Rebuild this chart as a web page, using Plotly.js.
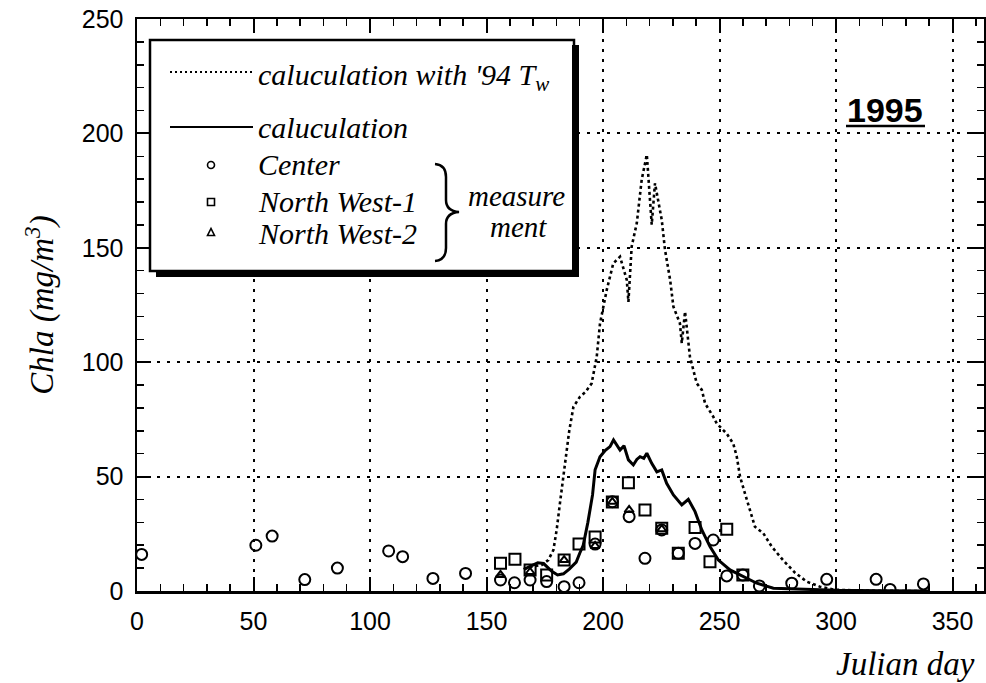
<!DOCTYPE html>
<html>
<head>
<meta charset="utf-8">
<script src="https://cdn.plot.ly/plotly-3.0.1.min.js"></script>
<style>html,body{margin:0;padding:0;background:#fff;}</style>
</head>
<body>
<div id="chart" style="width:986px;height:683px;"></div>
<script>
// ---------- data ----------
const calcDay  = [166, 169, 172, 174.5, 178, 180.5, 183, 185.5, 188.5, 190, 191.5, 193.5, 195.5, 196.6, 198.7, 201, 203, 204.5, 206, 207.3, 209, 210.9, 213, 214.5, 215.9, 217.5, 218.8, 220.9, 223.1, 225.2, 227.3, 230.2, 233.8, 236.6, 239.5, 242.4, 245.9, 249.5, 254.5, 260.2, 266, 273.1, 284.5, 300, 320, 340];
const calcChla = [9.5, 11, 12.3, 12, 8.6, 7, 7.5, 9.6, 12.6, 16.5, 20, 30, 42, 53, 58.7, 61.5, 63.1, 66, 63.5, 61.6, 63.5, 57.3, 55.1, 57.5, 58.7, 58, 60.2, 55.8, 52.1, 52.9, 47.1, 42, 37.6, 40.1, 34.7, 26.7, 19.4, 13.5, 9.2, 6.3, 3.4, 1.2, 0.7, 0.3, 0.1, 0];

const calc94Day  = [166, 169.4, 173.7, 176.5, 178.7, 180.1, 181.5, 183, 184.3, 185.5, 187.3, 190.1, 192.5, 195.1, 197.3, 198.7, 201.6, 204.4, 207.3, 210.2, 210.9, 212.3, 214.5, 216.6, 218.8, 220.2, 220.9, 222.3, 223.7, 225.2, 226.6, 228.8, 230.2, 233, 233.8, 235.2, 237.3, 240.2, 242.4, 243.8, 247.3, 248.8, 253.1, 255.9, 257.4, 258.8, 260.9, 263.1, 265.2, 268.8, 272.4, 277.4, 282.4, 287.4, 293.1, 299, 310, 330, 340];
const calc94Chla = [9.5, 10.6, 11.4, 13.5, 17.9, 26.7, 38.3, 51, 60, 70, 80.5, 84.9, 87, 90.7, 102.4, 116.9, 131.6, 143.2, 146.1, 135.9, 126.4, 150.6, 160.8, 179.8, 190.7, 172.4, 160.1, 178.2, 170.9, 162.2, 149.1, 136, 124.3, 117, 108.3, 122.1, 102.4, 90.8, 87.9, 82, 76.2, 73.2, 68.8, 64.4, 58.7, 50, 42.7, 35.4, 28.1, 25.2, 19.4, 13.3, 8, 4.1, 1.9, 0.6, 0.2, 0, 0];

const centerDay  = [2, 51, 58, 72, 86, 108, 114, 127, 141, 156, 162, 168.7, 175.8, 183.3, 189.7, 196.6, 204, 211.2, 218, 225.2, 232.3, 239.5, 247.3, 253.1, 260, 267.1, 281, 296, 317.2, 323.2, 337.5];
const centerChla = [16, 20, 24, 5, 10, 17.5, 15, 5.5, 7.7, 4.8, 3.6, 4.8, 4.1, 1.9, 3.6, 20.5, 39, 32.5, 14.3, 26.7, 16.5, 20.8, 22.3, 6.6, 7, 2.2, 3.4, 5.1, 5.1, 0.7, 3.1];

const nw1Day  = [156, 162.2, 168.7, 175.8, 183.3, 189.7, 196.6, 204, 210.9, 218, 225.2, 232.3, 239.5, 245.9, 253.1, 260];
const nw1Chla = [12.1, 13.9, 9.2, 7, 13.5, 20.5, 23.6, 38.9, 47.3, 35.4, 27.4, 16.5, 27.8, 12.8, 27, 7];

const nw2Day  = [156, 168.7, 183.3, 196.6, 204, 211.2, 225.2];
const nw2Chla = [7, 8.3, 13.5, 19.7, 39, 35.4, 27];

const xTickVals = [0, 50, 100, 150, 200, 250, 300, 350];
const yTickVals = [0, 50, 100, 150, 200, 250];

const legendLabels = ["caluculation with '94 T<sub>w</sub>", "caluculation", "Center", "North West-1", "North West-2"];
const braceLabel1 = "measure";
const braceLabel2 = "ment";
const yearLabel = "1995";
const xTitle = "Julian day";
const yTitle = "Chla (mg/m<sup>3</sup>)";

// ---------- helpers: pixel -> paper ----------
const M = {l: 137, r: 2, t: 19, b: 92};
const W = 986, H = 683;
const PW = W - M.l - M.r, PH = H - M.t - M.b;
const fx = p => (p - M.l) / PW;
const fy = p => (H - M.b - p) / PH;

const serifIt = {family: "Liberation Serif, Times New Roman, serif", style: "italic", color: "#000"};

const traces = [
  {x: calc94Day, y: calc94Chla, type: "scatter", mode: "lines", name: legendLabels[0],
   line: {color: "#000", width: 2.6, dash: "3px,3px"}},
  {x: calcDay, y: calcChla, type: "scatter", mode: "lines", name: legendLabels[1],
   line: {color: "#000", width: 3}},
  {x: centerDay, y: centerChla, type: "scatter", mode: "markers", name: legendLabels[2],
   marker: {symbol: "circle-open", size: 11, color: "#000", line: {width: 2, color: "#000"}}},
  {x: nw1Day, y: nw1Chla, type: "scatter", mode: "markers", name: legendLabels[3],
   marker: {symbol: "square-open", size: 11, color: "#000", line: {width: 2, color: "#000"}}},
  {x: nw2Day, y: nw2Chla, type: "scatter", mode: "markers", name: legendLabels[4],
   marker: {symbol: "triangle-up-open", size: 8, color: "#000", line: {width: 2, color: "#000"}}}
];

const axisCommon = {
  showline: true, linecolor: "#000", linewidth: 2.5, mirror: "allticks",
  ticks: "inside", ticklen: 14, tickwidth: 2, tickcolor: "#000",
  showgrid: true, gridcolor: "#000", gridwidth: 2, griddash: "3px,7px",
  zeroline: false,
  tickfont: {family: "Liberation Sans, Arial, sans-serif", size: 25, color: "#000"},
  minor: {dtick: 10, ticks: "inside", ticklen: 7, tickwidth: 1.5, tickcolor: "#000", showgrid: false}
};

const layout = {
  width: W, height: H,
  margin: M,
  paper_bgcolor: "#fff", plot_bgcolor: "#fff",
  showlegend: false,
  xaxis: Object.assign({}, axisCommon, {range: [0, 363.5], tickvals: xTickVals, ticklabelstandoff: 6}),
  yaxis: Object.assign({}, axisCommon, {range: [0, 250], tickvals: yTickVals, ticklabelstandoff: 6,
    title: {text: yTitle, font: Object.assign({size: 33}, serifIt), standoff: 18}}),
  shapes: [
    // legend box + shadow
    {type: "rect", xref: "paper", yref: "paper", x0: fx(150), x1: fx(574), y0: fy(271), y1: fy(40),
     line: {color: "#000", width: 2.5}, fillcolor: "#fff", layer: "above"},
    {type: "rect", xref: "paper", yref: "paper", x0: fx(572), x1: fx(579), y0: fy(277), y1: fy(45),
     line: {width: 0}, fillcolor: "#000", layer: "above"},
    {type: "rect", xref: "paper", yref: "paper", x0: fx(156), x1: fx(579), y0: fy(277), y1: fy(270),
     line: {width: 0}, fillcolor: "#000", layer: "above"},
    // legend line samples
    {type: "line", xref: "paper", yref: "paper", x0: fx(170), x1: fx(253), y0: fy(72), y1: fy(72),
     line: {color: "#000", width: 2, dash: "2px,3px"}},
    {type: "line", xref: "paper", yref: "paper", x0: fx(170), x1: fx(253), y0: fy(127), y1: fy(127),
     line: {color: "#000", width: 2}},
    // legend marker samples
    {type: "circle", xref: "paper", yref: "paper", x0: fx(207.5), x1: fx(214.5), y0: fy(168.5), y1: fy(161.5),
     line: {color: "#000", width: 1.6}},
    {type: "rect", xref: "paper", yref: "paper", x0: fx(207.5), x1: fx(214.5), y0: fy(205.5), y1: fy(198.5),
     line: {color: "#000", width: 1.6}},
    {type: "path", xref: "paper", yref: "paper",
     path: `M ${fx(207.5)} ${fy(235.5)} L ${fx(214.5)} ${fy(235.5)} L ${fx(211)} ${fy(228.5)} Z`,
     line: {color: "#000", width: 1.6}},
    // brace
    {type: "path", xref: "paper", yref: "paper",
     path: `M ${fx(435)} ${fy(164)} Q ${fx(446)} ${fy(165)} ${fx(446)} ${fy(177)} L ${fx(446)} ${fy(200)} Q ${fx(446)} ${fy(211)} ${fx(459)} ${fy(212)} Q ${fx(446)} ${fy(213)} ${fx(446)} ${fy(224)} L ${fx(446)} ${fy(248)} Q ${fx(446)} ${fy(260)} ${fx(435)} ${fy(261)}`,
     line: {color: "#000", width: 2.5}},
    // underline of year
    {type: "line", xref: "paper", yref: "paper", x0: fx(846), x1: fx(925), y0: fy(126), y1: fy(126),
     line: {color: "#000", width: 2.5}}
  ],
  annotations: [
    {xref: "paper", yref: "paper", x: fx(256), y: fy(77), xanchor: "left", yanchor: "middle", showarrow: false,
     text: legendLabels[0], font: Object.assign({size: 30}, serifIt)},
    {xref: "paper", yref: "paper", x: fx(256), y: fy(127), xanchor: "left", yanchor: "middle", showarrow: false,
     text: legendLabels[1], font: Object.assign({size: 30}, serifIt)},
    {xref: "paper", yref: "paper", x: fx(256), y: fy(165), xanchor: "left", yanchor: "middle", showarrow: false,
     text: legendLabels[2], font: Object.assign({size: 30}, serifIt)},
    {xref: "paper", yref: "paper", x: fx(256), y: fy(201), xanchor: "left", yanchor: "middle", showarrow: false,
     text: legendLabels[3], font: Object.assign({size: 30}, serifIt)},
    {xref: "paper", yref: "paper", x: fx(256), y: fy(233), xanchor: "left", yanchor: "middle", showarrow: false,
     text: legendLabels[4], font: Object.assign({size: 30}, serifIt)},
    {xref: "paper", yref: "paper", x: fx(516), y: fy(196), xanchor: "center", yanchor: "middle", showarrow: false,
     text: braceLabel1, font: Object.assign({size: 29}, serifIt)},
    {xref: "paper", yref: "paper", x: fx(518), y: fy(227), xanchor: "center", yanchor: "middle", showarrow: false,
     text: braceLabel2, font: Object.assign({size: 29}, serifIt)},
    {xref: "paper", yref: "paper", x: fx(885), y: fy(110), xanchor: "center", yanchor: "middle", showarrow: false,
     text: "<b>" + yearLabel + "</b>", font: {family: "Liberation Sans, Arial, sans-serif", size: 34, color: "#000"}},
    {xref: "paper", yref: "paper", x: fx(905), y: fy(664), xanchor: "center", yanchor: "middle", showarrow: false,
     text: xTitle, font: Object.assign({size: 33}, serifIt)}
  ]
};

Plotly.newPlot("chart", traces, layout, {displayModeBar: false, staticPlot: true});
</script>
</body>
</html>
